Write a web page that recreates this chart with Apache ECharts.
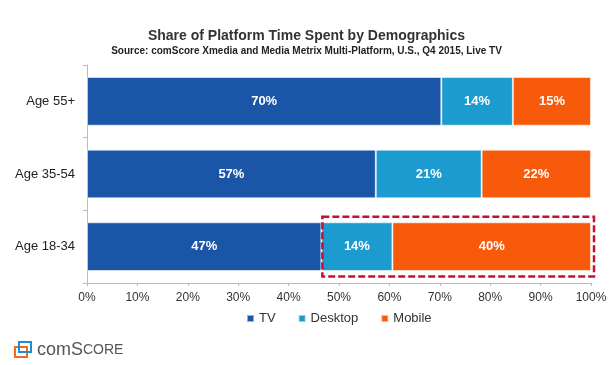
<!DOCTYPE html>
<html><head><meta charset="utf-8">
<script src="https://cdn.jsdelivr.net/npm/echarts@6/dist/echarts.min.js"></script>
<style>html,body{margin:0;padding:0;background:#fff}#c{width:613px;height:365px}</style>
</head><body><div id="c"></div>
<script>
const categories = ['Age 18-34', 'Age 35-54', 'Age 55+'];
const tvValues = [46.5, 57.3, 70.3];
const desktopValues = [14.1, 21.0, 14.2];
const mobileValues = [39.4, 21.7, 15.5];
const tvLabels = ['47%', '57%', '70%'];
const desktopLabels = ['14%', '21%', '14%'];
const mobileLabels = ['40%', '22%', '15%'];
const xTicks = [0, 10, 20, 30, 40, 50, 60, 70, 80, 90, 100];

const chart = echarts.init(document.getElementById('c'), null, {renderer: 'canvas'});
const F = 'Liberation Sans, Arial, sans-serif';
function mk(name, vals, labels, color) {
  return {
    name, type: 'bar', stack: 'all', data: vals, barCategoryGap: '33%',
    itemStyle: {color, borderColor: 'rgba(255,255,255,0.55)', borderWidth: 1},
    label: {show: true, position: 'inside', color: '#fff', fontFamily: F, fontWeight: 'bold', fontSize: 13,
      formatter: p => labels[p.dataIndex]},
    emphasis: {disabled: true}
  };
}
chart.setOption({
  animation: false,
  title: {
    text: 'Share of Platform Time Spent by Demographics',
    subtext: 'Source: comScore Xmedia and Media Metrix Multi-Platform, U.S., Q4 2015, Live TV',
    left: 'center', top: 24, itemGap: 3,
    textStyle: {fontFamily: F, fontSize: 14, fontWeight: 'bold', color: '#333'},
    subtextStyle: {fontFamily: F, fontSize: 10, fontWeight: 'bold', color: '#222'}
  },
  legend: {
    data: ['TV', 'Desktop', 'Mobile'], bottom: 35, left: 241, itemWidth: 7, itemHeight: 7, itemGap: 22,
    icon: 'rect', textStyle: {fontFamily: F, fontSize: 13, color: '#333'}, selectedMode: false
  },
  grid: {left: 87, right: 22, top: 65, bottom: 82, containLabel: false},
  xAxis: {
    type: 'value', min: 0, max: 100, interval: 10,
    axisLine: {show: true, lineStyle: {color: '#bbb'}},
    axisTick: {show: true, length: 3, lineStyle: {color: '#bbb'}},
    splitLine: {show: false},
    axisLabel: {fontFamily: F, fontSize: 12, color: '#333', margin: 9,
      formatter: v => xTicks.includes(v) ? v + '%' : ''}
  },
  yAxis: {
    type: 'category', data: categories,
    axisLine: {show: true, lineStyle: {color: '#bbb'}},
    axisTick: {show: true, length: 4, lineStyle: {color: '#bbb'}},
    axisLabel: {fontFamily: F, fontSize: 13, color: '#222', margin: 12}
  },
  series: [
    mk('TV', tvValues, tvLabels, '#1a55a8'),
    mk('Desktop', desktopValues, desktopLabels, '#1b9bd0'),
    mk('Mobile', mobileValues, mobileLabels, '#f85a0b')
  ]
});

// Annotation box around Desktop + Mobile of Age 18-34
const idx = 0;
const x0 = chart.convertToPixel({xAxisIndex: 0}, tvValues[idx]);
const x1 = chart.convertToPixel({xAxisIndex: 0}, 100);
const yc = chart.convertToPixel({yAxisIndex: 0}, categories[idx]);
const yTop = chart.convertToPixel({yAxisIndex: 0}, categories[1]);
const band = Math.abs(yc - yTop);
const half = band * 0.41;
chart.setOption({
  graphic: [
    {type: 'rect', shape: {x: x0 + 1, y: yc - half, width: x1 - x0 + 2, height: half * 2},
      style: {fill: 'none', stroke: '#c8102e', lineWidth: 2.5, lineDash: [7, 3]}, z: 100},
    {type: 'rect', shape: {x: 15, y: 347, width: 12, height: 10}, style: {fill: 'none', stroke: '#f26b21', lineWidth: 2}},
    {type: 'rect', shape: {x: 19, y: 342, width: 12, height: 10}, style: {fill: 'none', stroke: '#1f8ed0', lineWidth: 2}},
    {type: 'text', left: 37, top: 341,
      style: {text: '{a|com}{b|S}{c|CORE}', rich: {
        a: {fontFamily: F, fontSize: 18, fill: '#555'},
        b: {fontFamily: F, fontSize: 18, fill: '#555'},
        c: {fontFamily: F, fontSize: 14, fill: '#555'}}}}
  ]
});
</script></body></html>
